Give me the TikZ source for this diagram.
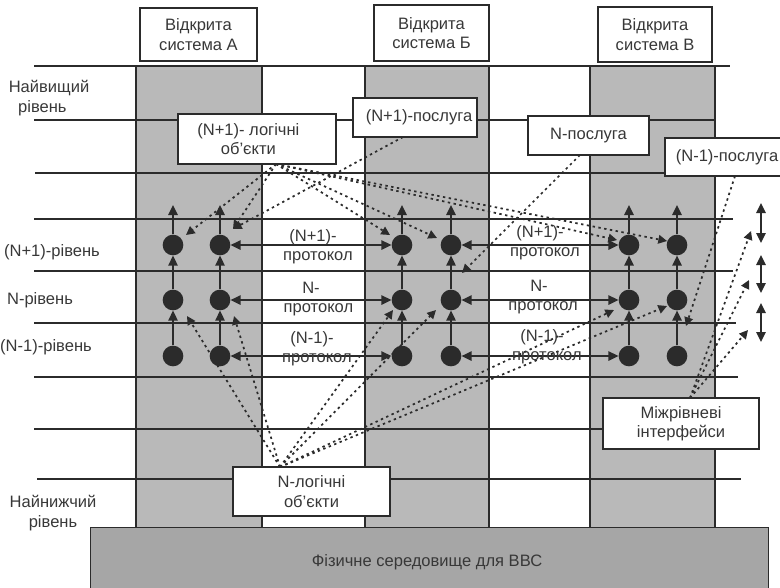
\documentclass[tikz,border=0pt]{standalone}
\usepackage{fontspec}
\setmainfont{Liberation Sans}
\usetikzlibrary{arrows.meta}
\definecolor{ink}{HTML}{2B2B2B}
\definecolor{txt}{HTML}{383838}
\definecolor{sysfill}{HTML}{B9B9B9}
\definecolor{medfill}{HTML}{A6A6A6}
\begin{document}
\begin{tikzpicture}[x=0.75pt,y=-0.75pt,
  font=\fontsize{12.4}{14.5}\selectfont,
  lvl/.style={draw=ink,line width=1.2pt},
  col/.style={draw=ink,line width=1.5pt},
  entity/.style={circle,fill=ink,inner sep=0pt,minimum size=15.5pt},
  flow/.style={draw=ink,line width=1.3pt,-{Triangle[length=7.5pt,width=7pt]}},
  proto/.style={draw=ink,line width=1.3pt,{Triangle[length=7.5pt,width=7pt]}-{Triangle[length=7.5pt,width=7pt]}},
  ref/.style={draw=ink,line width=1.3pt,dash pattern=on 1.8pt off 2.6pt,-{Triangle[length=6.5pt,width=6.5pt]}},
  tag/.style={draw=ink,line width=1.1pt,fill=white,text=txt,align=center,inner sep=0pt},
  lbl/.style={text=txt,align=center,inner sep=0pt},
]
\useasboundingbox (0,0) rectangle (780,587);
\clip (0,0) rectangle (780,587);

% shaded open systems
\fill[sysfill] (136,66) rectangle (262,527);
\fill[sysfill] (365,66) rectangle (489,527);
\fill[sysfill] (590,66) rectangle (715,527);

% level boundaries
\draw[lvl] (34,66) -- (730,66);
\draw[lvl] (34,120) -- (715,120);
\draw[lvl] (35,173) -- (700,173);
\draw[lvl] (34,219) -- (733,219);
\draw[lvl] (34,271) -- (733,271);
\draw[lvl] (34,323) -- (736,323);
\draw[lvl] (34,377) -- (738,377);
\draw[lvl] (34,429) -- (640,429);
\draw[lvl] (37,479) -- (741,479);

% system borders
\foreach \cx in {136,262,365,489,590,715}
  \draw[col] (\cx,66) -- (\cx,527);

% physical medium
\node[draw=ink,line width=1.1pt,fill=medfill,minimum width=678*0.75pt,minimum height=80*0.75pt,anchor=north west,inner sep=0pt] (phys) at (90,527) {};
\node[lbl] (physt) at (427,562) {Фізичне середовище для ВВС};

% level names
\node[lbl] (top) at (49,98) {Найвищий\\\hspace*{-0.8em}рівень};
\node[lbl] (lvA) at (52,252) {(N+1)-рівень};
\node[lbl] (lvB) at (40,300) {N-рівень};
\node[lbl] (lvC) at (46,347) {(N-1)-рівень};
\node[lbl] (bot) at (53,513) {Найнижчий\\рівень};

% references from the labels (drawn under the entities)
\coordinate (oU) at (276,164);
\coordinate (tA1) at (186,235); \coordinate (tA2) at (233,229);
\coordinate (tB1) at (390,235); \coordinate (tB2) at (437,238);
\coordinate (tC1) at (617,240); \coordinate (tC2) at (667,241);
\foreach \t in {tA1,tA2,tB1,tB2,tC1,tC2} \draw[ref] (oU) -- (\t);

\coordinate (oS) at (403,137);
\draw[ref] (oS) -- (tA2);

\coordinate (oN) at (580,155);
\coordinate (tNi) at (462,273);
\draw[ref] (oN) -- (tNi);

\coordinate (oL) at (735,176);
\coordinate (tLi) at (686,326);
\draw[ref] (oL) -- (tLi);

\coordinate (oI) at (690,398);
\coordinate (tI1) at (751,231); \coordinate (tI2) at (749,280); \coordinate (tI3) at (748,330);
\foreach \t in {tI1,tI2,tI3} \draw[ref] (oI) -- (\t);

\coordinate (oD) at (280,467);
\coordinate (nA1) at (187,316); \coordinate (nA2) at (234,316);
\coordinate (nB1) at (393,310); \coordinate (nB2) at (436,310);
\coordinate (nC1) at (614,310); \coordinate (nC2) at (667,306);
\foreach \t in {nA1,nA2,nB1,nB2,nC1,nC2} \draw[ref] (oD) -- (\t);

% entities
\foreach \s/\xa/\xb in {A/173/220,B/402/451,C/629/677}{
  \foreach \r/\yy in {1/245,2/300,3/356}{
    \node[entity] (\s1\r) at (\xa,\yy) {};
    \node[entity] (\s2\r) at (\xb,\yy) {};
  }
}

% service flow inside each system
\foreach \s in {A,B,C}{
  \foreach \c in {1,2}{
    \coordinate (\s\c up) at ([yshift=30pt]\s\c1.center);
    \draw[flow] (\s\c3) -- (\s\c2);
    \draw[flow] (\s\c2) -- (\s\c1);
    \draw[flow] (\s\c1) -- (\s\c up);
  }
}

% peer protocols
\draw[proto] (A21) -- (B11);
\draw[proto] (A22) -- (B12);
\draw[proto] (A23) -- (B13);
\draw[proto] (B21) -- (C11);
\draw[proto] (B22) -- (C12);
\draw[proto] (B23) -- (C13);
\node[lbl] (p1) at (313,247) {(N+1)-\\\hspace*{0.6em}протокол};
\node[lbl] (p2) at (311,299) {N-\\\hspace*{0.9em}протокол};
\node[lbl] (p3) at (312,349) {(N-1)-\\\hspace*{0.6em}протокол};
\node[lbl] (p4) at (540,243) {(N+1)-\\\hspace*{0.6em}протокол};
\node[lbl] (p5) at (539,297) {N-\\\hspace*{0.5em}протокол};
\node[lbl] (p6) at (542,347) {(N-1)-\\\hspace*{0.6em}протокол};

% interlayer interfaces
\coordinate (i1t) at (761,203); \coordinate (i1b) at (761,243);
\coordinate (i2t) at (761,255); \coordinate (i2b) at (761,293);
\coordinate (i3t) at (761,303); \coordinate (i3b) at (761,342);
\draw[proto] (i1t) -- (i1b);
\draw[proto] (i2t) -- (i2b);
\draw[proto] (i3t) -- (i3b);

% labelled boxes
\node[tag,minimum width=117*0.75pt,minimum height=53*0.75pt] (sysA) at (198.5,34.5) {Відкрита\\система А};
\node[tag,minimum width=115*0.75pt,minimum height=56*0.75pt] (sysB) at (431.5,33) {Відкрита\\система Б};
\node[tag,minimum width=114*0.75pt,minimum height=55*0.75pt] (sysC) at (655,34.5) {Відкрита\\система В};
\node[tag,minimum width=158*0.75pt,minimum height=50*0.75pt] (objU) at (257,139) {(N+1)- логічні\hspace*{13pt}\\об'єкти\hspace*{13pt}};
\node[tag,minimum width=124*0.75pt,minimum height=39*0.75pt] (srvU) at (415,117.5) {\hspace*{6pt}(N+1)-послуга};
\node[tag,minimum width=121*0.75pt,minimum height=39*0.75pt] (srvN) at (588.5,135.5) {N-послуга};
\node[tag,minimum width=124*0.75pt,minimum height=38*0.75pt] (srvL) at (727,157) {(N-1)-послуга};
\node[tag,minimum width=157*0.75pt,minimum height=49*0.75pt] (objN) at (311.5,491.5) {N-логічні\\об'єкти};
\node[tag,minimum width=156*0.75pt,minimum height=51*0.75pt] (ifc) at (681,423.5) {Міжрівневі\\інтерфейси};
\end{tikzpicture}
\end{document}
